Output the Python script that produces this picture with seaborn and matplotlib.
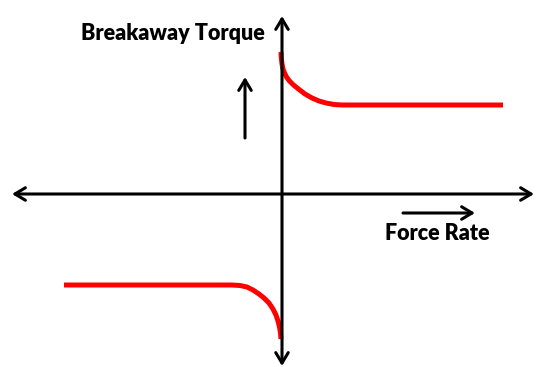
import pandas as pd
import seaborn as sns
import matplotlib.pyplot as plt

# curve points (origin where the axes cross, y up)
upper_x = [-1, -0.7, 0, 1, 2.5, 4.5, 7.5, 11.5, 16.5, 23, 30, 37, 44, 52, 60, 221]
upper_y = [142, 136, 130, 125, 121, 117, 113, 109, 105, 100, 96, 93, 91, 89.5, 89, 89]
lower_x = [-218, -50, -42, -35, -29, -23, -18, -13, -9, -6, -4, -2.5, -1.5, -1]
lower_y = [-91, -91, -91.5, -93, -96, -100, -104, -109, -115, -121, -127, -133, -139, -145]

y_label = "Breakaway Torque"
x_label = "Force Rate"

df = pd.concat([
    pd.DataFrame({"x": upper_x, "y": upper_y, "part": "upper"}),
    pd.DataFrame({"x": lower_x, "y": lower_y, "part": "lower"}),
])

sns.set_style("white")
plt.rcParams["font.family"] = ["Lato", "DejaVu Sans"]

fig = plt.figure(figsize=(5.36, 3.67), dpi=100)
ax = fig.add_axes([0, 0, 1, 1])

sns.lineplot(data=df, x="x", y="y", units="part", estimator=None, sort=False,
             color="#ff0000", linewidth=3.6, ax=ax, legend=False,
             solid_capstyle="butt", solid_joinstyle="round")

arrow = dict(arrowstyle="->, head_length=0.75, head_width=0.45", color="black",
             lw=2.2, shrinkA=0, shrinkB=0)
arrow2 = dict(arrowstyle="<->, head_length=0.75, head_width=0.45", color="black",
              lw=2.2, shrinkA=0, shrinkB=0)

# main axes
ax.annotate("", xy=(252, 0), xytext=(-270, 0), arrowprops=arrow2)
ax.annotate("", xy=(0, 178), xytext=(0, -172), arrowprops=arrow2)
# hint arrows
ax.annotate("", xy=(-37, 117), xytext=(-37, 56), arrowprops=arrow)
ax.annotate("", xy=(193, -19), xytext=(121, -19), arrowprops=arrow)

ax.text(-109.5, 161, y_label, ha="center", va="center", fontsize=15.5,
        fontweight="heavy", color="black")
ax.text(155.5, -39, x_label, ha="center", va="center", fontsize=15.5,
        fontweight="heavy", color="black")

ax.set_xlim(-282, 254)
ax.set_ylim(-173, 194)
ax.set_axis_off()

plt.savefig("out.png", dpi=100)
plt.close()
